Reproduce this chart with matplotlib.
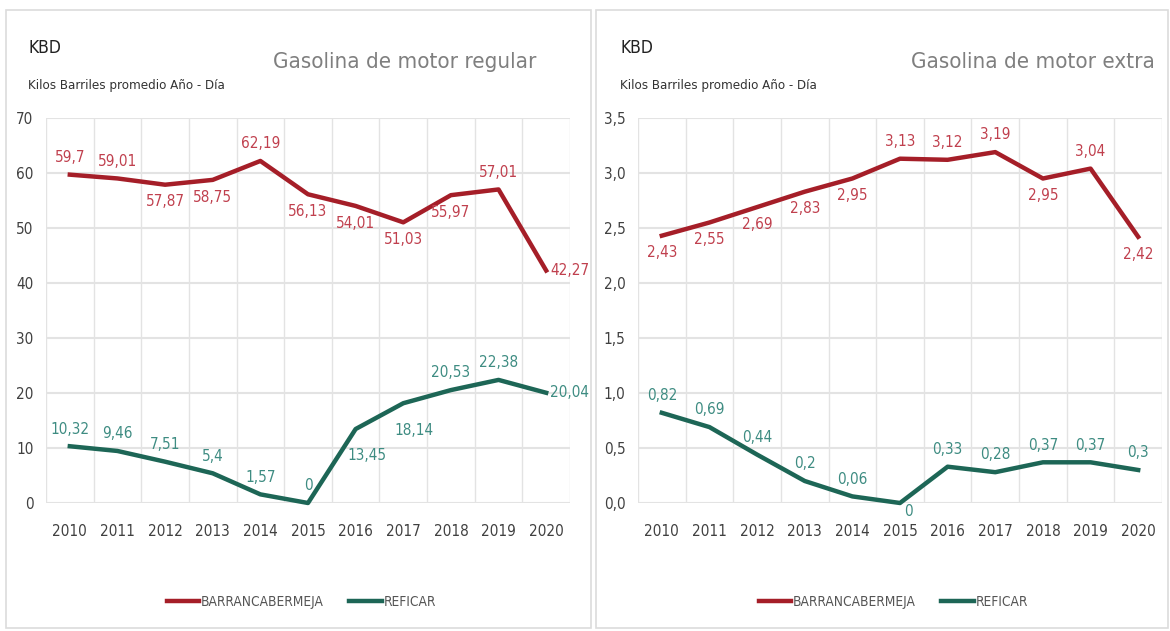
import matplotlib
matplotlib.use("Agg")
import matplotlib.pyplot as plt
from matplotlib.patches import Rectangle

plt.rcParams['font.family'] = ['DejaVu Sans']
plt.rcParams['font.stretch'] = 'condensed'

years = ['2010', '2011', '2012', '2013', '2014', '2015', '2016', '2017', '2018', '2019', '2020']

# Gasolina de motor regular
reg_barranca = [59.7, 59.01, 57.87, 58.75, 62.19, 56.13, 54.01, 51.03, 55.97, 57.01, 42.27]
reg_reficar = [10.32, 9.46, 7.51, 5.4, 1.57, 0, 13.45, 18.14, 20.53, 22.38, 20.04]
reg_barranca_pos = ['a', 'a', 'b', 'b', 'a', 'b', 'b', 'b', 'b', 'a', 'r']
reg_reficar_pos = ['a', 'a', 'a', 'a', 'a', 'a', 'bb', 'bb', 'a', 'a', 'r']

# Gasolina de motor extra
ext_barranca = [2.43, 2.55, 2.69, 2.83, 2.95, 3.13, 3.12, 3.19, 2.95, 3.04, 2.42]
ext_reficar = [0.82, 0.69, 0.44, 0.2, 0.06, 0, 0.33, 0.28, 0.37, 0.37, 0.3]
ext_barranca_pos = ['b', 'b', 'b', 'b', 'b', 'a', 'a', 'a', 'b', 'a', 'b']
ext_reficar_pos = ['a', 'a', 'a', 'a', 'a', 'br', 'a', 'a', 'a', 'a', 'a']

RED = '#A51E28'
GREEN = '#1D6656'
RED_TXT = '#C0404E'
GREEN_TXT = '#3E8C82'
W, H = 1170, 631

fig = plt.figure(figsize=(11.7, 6.31), dpi=100)

# panel frames
for x0, x1 in [(6, 591), (596, 1168)]:
    fig.patches.append(Rectangle((x0 / W, 3 / H), (x1 - x0) / W, (621 - 3) / H,
                                 transform=fig.transFigure, fill=False,
                                 edgecolor='#dcdcdc', linewidth=1.2))


def fmt(v):
    return ('%g' % v).replace('.', ',')


def put_labels(ax, vals, pos, color):
    for i, (v, p) in enumerate(zip(vals, pos)):
        if p == 'a':
            off, ha, va = (0, 7), 'center', 'bottom'
        elif p == 'b':
            off, ha, va = (0, -7), 'center', 'top'
        elif p == 'bb':
            off, ha, va = (8, -14), 'center', 'top'
        elif p == 'br':
            off, ha, va = (3, -1), 'left', 'top'
        else:
            off, ha, va = (3, 0), 'left', 'center'
        ax.annotate(fmt(v), (i, v), xytext=off, textcoords='offset points',
                    ha=ha, va=va, color=color, fontsize=11)


def panel(left_px, title, barranca, reficar, bpos, rpos, ymax, ystep, decimals, title_x):
    ax = fig.add_axes([left_px / W, (H - 503) / H, 524 / W, 385 / H])
    x = range(len(years))
    ax.plot(x, barranca, color=RED, lw=3.2, label='BARRANCABERMEJA', clip_on=False, zorder=3)
    ax.plot(x, reficar, color=GREEN, lw=3.2, label='REFICAR', clip_on=False, zorder=3)
    put_labels(ax, barranca, bpos, RED_TXT)
    put_labels(ax, reficar, rpos, GREEN_TXT)

    ax.set_xlim(-0.5, len(years) - 0.5)
    ax.set_ylim(0, ymax)
    ax.set_xticks(list(x))
    ax.set_xticklabels(years)
    ax.set_xticks([i - 0.5 for i in range(len(years) + 1)], minor=True)
    ticks = [i * ystep for i in range(int(round(ymax / ystep)) + 1)]
    ax.set_yticks(ticks)
    if decimals:
        ax.set_yticklabels([('%.1f' % t).replace('.', ',') for t in ticks])
    else:
        ax.set_yticklabels(['%d' % t for t in ticks])
    ax.grid(True, which='minor', axis='x', color='#e3e3e3', lw=1)
    ax.grid(True, which='major', axis='y', color='#e3e3e3', lw=1.5)
    ax.tick_params(which='both', length=0)
    ax.tick_params(axis='x', pad=15, labelsize=11, labelcolor='#404040')
    ax.tick_params(axis='y', pad=9, labelsize=11, labelcolor='#404040')
    for s in ax.spines.values():
        s.set_visible(False)
    ax.set_axisbelow(True)

    ax.legend(loc='center', bbox_to_anchor=(0.487, -0.257), ncol=2, frameon=False,
              handlelength=2.4, handletextpad=0.1, columnspacing=1.9,
              fontsize=9.8, labelcolor='#555555')

    fig.text((left_px - 18) / W, 1 - 48 / H, 'KBD', fontsize=12.5, color='#222222',
             va='center', ha='left')
    fig.text((left_px - 18) / W, 1 - 86 / H, 'Kilos Barriles promedio Año - Día', fontsize=9.5,
             color='#333333', va='center', ha='left')
    fig.text(title_x / W, 1 - 62 / H, title, fontsize=16, color='#7f7f7f',
             va='center', ha='right')
    return ax


panel(46, 'Gasolina de motor regular', reg_barranca, reg_reficar,
      reg_barranca_pos, reg_reficar_pos, 70, 10, False, 536)
panel(638, 'Gasolina de motor extra', ext_barranca, ext_reficar,
      ext_barranca_pos, ext_reficar_pos, 3.5, 0.5, True, 1155)

fig.savefig('out.png', dpi=100, facecolor='white')
